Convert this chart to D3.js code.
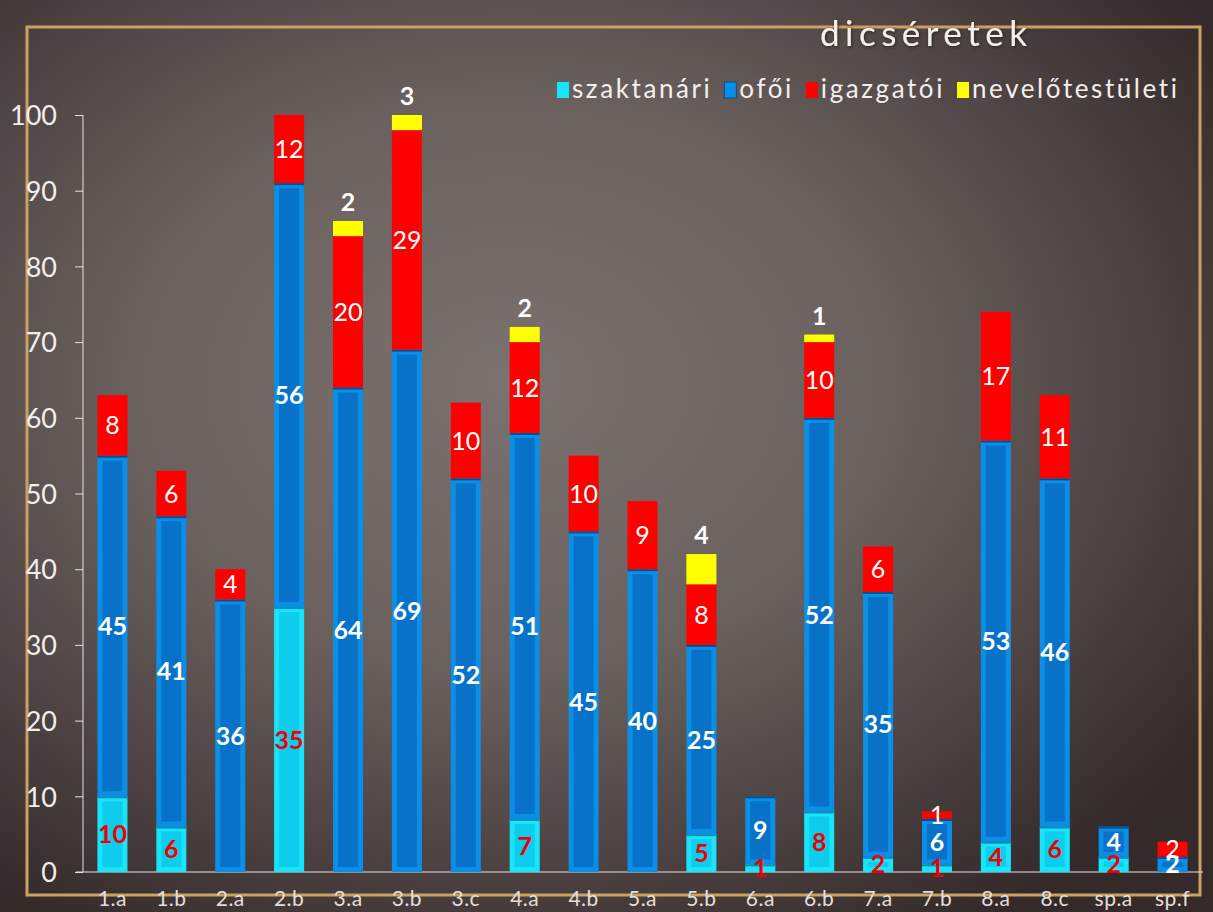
<!DOCTYPE html>
<html lang="hu">
<head>
<meta charset="UTF-8">
<title>dicséretek</title>
<script src="https://d3js.org/d3.v7.min.js"></script>
<style>
  html, body { margin: 0; padding: 0; background: #3b3130; }
  svg { display: block; font-family: Lato, "Open Sans", sans-serif; }
</style>
</head>
<body>
<svg id="chart" width="1213" height="912"></svg>
<script>
// data
const categories = ["1.a", "1.b", "2.a", "2.b", "3.a", "3.b", "3.c", "4.a", "4.b", "5.a",
                    "5.b", "6.a", "6.b", "7.a", "7.b", "8.a", "8.c", "sp.a", "sp.f"];
const szaktanari = [10, 6, 0, 35, 0, 0, 0, 7, 0, 0, 5, 1, 8, 2, 1, 4, 6, 2, 0];
const ofoi       = [45, 41, 36, 56, 64, 69, 52, 51, 45, 40, 25, 9, 52, 35, 6, 53, 46, 4, 2];
const igazgatoi  = [8, 6, 4, 12, 20, 29, 10, 12, 10, 9, 8, 0, 10, 6, 1, 17, 11, 0, 2];
const nevelo     = [0, 0, 0, 0, 2, 3, 0, 2, 0, 0, 4, 0, 1, 0, 0, 0, 0, 0, 0];
const seriesNames = ["szaktanári", "ofői", "igazgatói", "nevelőtestületi"];
const yTicks = [0, 10, 20, 30, 40, 50, 60, 70, 80, 90, 100];

const W = 1213, H = 912;
const FONT = "Lato, 'Open Sans', sans-serif";
const svg = d3.select("#chart");
const defs = svg.append("defs");

// background
const bg = defs.append("radialGradient").attr("id", "bg")
    .attr("cx", "42%").attr("cy", "42%").attr("r", "70%");
bg.append("stop").attr("offset", "0%").attr("stop-color", "#7b7270");
bg.append("stop").attr("offset", "45%").attr("stop-color", "#6a605e");
bg.append("stop").attr("offset", "100%").attr("stop-color", "#352a2a");
svg.append("rect").attr("width", W).attr("height", H).attr("fill", "url(#bg)");

const shadow = defs.append("filter").attr("id", "shadow")
    .attr("x", "-10%").attr("y", "-20%").attr("width", "120%").attr("height", "140%");
shadow.append("feDropShadow").attr("dx", 1).attr("dy", 1).attr("stdDeviation", 1.5)
    .attr("flood-color", "#2a1a18").attr("flood-opacity", 0.9);

// gold frame
svg.append("rect").attr("x", 27).attr("y", 27).attr("width", 1173).attr("height", 868)
    .attr("fill", "none").attr("stroke", "#c8a263").attr("stroke-width", 3);

// scales
const x = d3.scaleBand().domain(categories).range([83, 1202])
    .paddingInner(0.49).paddingOuter(0.245);
const y = d3.scaleLinear().domain([0, 100]).range([872, 115]).clamp(true);

const rows = categories.map((c, i) => ({
  cat: c, szaktanari: szaktanari[i], ofoi: ofoi[i], igazgatoi: igazgatoi[i], nevelo: nevelo[i]
}));
const keys = ["szaktanari", "ofoi", "igazgatoi", "nevelo"];
const stacked = d3.stack().keys(keys)(rows);

const fills = {
  szaktanari: { outer: "#18e4fb", inner: "#0ecdec", edge: "#0a8fb8" },
  ofoi:       { outer: "#0b8fe6", inner: "#0872c8", edge: "#06508e" },
  igazgatoi:  { outer: "#ff0000" },
  nevelo:     { outer: "#ffff00" }
};

// axes
const yAxis = svg.append("g").attr("transform", "translate(83,0)")
    .call(d3.axisLeft(y).tickValues(yTicks).tickSize(8).tickPadding(18))
    .attr("font-family", FONT);
yAxis.select(".domain").attr("stroke", "#e6e2e0").attr("d", "M0,872V115");
yAxis.selectAll(".tick line").attr("stroke", "#e6e2e0");
yAxis.selectAll(".tick text").attr("fill", "#f2eeec").style("font-size", "27px")
    .attr("dy", "0.36em");

const xAxis = svg.append("g").attr("transform", "translate(0,872)")
    .call(d3.axisBottom(x).tickSize(0).tickPadding(19))
    .attr("font-family", FONT);
xAxis.select(".domain").attr("stroke", "#e6e2e0").attr("d", "M76,0H1203");
xAxis.selectAll(".tick text").attr("fill", "#e4dedb").style("font-size", "21px")
    .style("letter-spacing", "0.5px");

// bars
const bars = svg.append("g");
stacked.forEach(layer => {
  const f = fills[layer.key];
  layer.forEach(d => {
    const v = d[1] - d[0];
    if (v <= 0) return;
    const bx = x(d.data.cat), bw = x.bandwidth();
    const y0 = y(d[0]), y1 = y(d[1]);
    const h = y0 - y1;
    if (h <= 0) return;
    bars.append("rect").attr("x", bx).attr("y", y1).attr("width", bw).attr("height", h)
        .attr("fill", f.outer);
    if (f.inner) {
      const ins = 5;
      if (h > ins * 2 + 2) {
        bars.append("rect").attr("x", bx + ins).attr("y", y1 + ins)
            .attr("width", bw - ins * 2).attr("height", h - ins * 2).attr("fill", f.inner);
      }
      bars.append("line").attr("x1", bx).attr("x2", bx + bw).attr("y1", y1 + 1).attr("y2", y1 + 1)
          .attr("stroke", f.edge).attr("stroke-width", 2);
    }
  });
});

// data labels
const labels = svg.append("g").attr("text-anchor", "middle").style("font-size", "25px");
stacked.forEach(layer => {
  layer.forEach(d => {
    const v = d[1] - d[0];
    if (v <= 0) return;
    const cx = x(d.data.cat) + x.bandwidth() / 2;
    const mid = (y(d[0]) + y(d[1])) / 2;
    const t = labels.append("text").attr("x", cx).text(v);
    if (layer.key === "szaktanari") {
      t.attr("y", mid).attr("dy", "0.36em").attr("fill", "#f00000").attr("font-weight", "bold");
    } else if (layer.key === "ofoi") {
      t.attr("y", mid).attr("dy", "0.36em").attr("fill", "#ffffff").attr("font-weight", "bold");
    } else if (layer.key === "igazgatoi") {
      t.attr("y", mid).attr("dy", "0.36em").attr("fill", "#ffffff").attr("font-weight", "normal");
    } else {
      t.attr("y", y(d[1]) - 10).attr("fill", "#ffffff").attr("font-weight", "bold");
    }
  });
});

// title
svg.append("text").attr("x", 820).attr("y", 46)
    .attr("fill", "#f4efec").style("font-size", "35px").style("letter-spacing", "5.5px")
    .attr("filter", "url(#shadow)").text("dicséretek");

// legend: laid out left to right from 557, letter spacing chosen so it ends at 1180
const legend = svg.append("g");
const legStart = 557, legEnd = 1180, sq = 12, sqGap = 3, itemGap = 12;
const texts = seriesNames.map(n => legend.append("text").attr("y", 98).attr("fill", "#f4efec")
    .style("font-size", "26px").text(n));
const widths = texts.map(t => t.node().getComputedTextLength());
const nChars = d3.sum(seriesNames, n => n.length);
const spacing = (legEnd - legStart - keys.length * (sq + sqGap) - (keys.length - 1) * itemGap
                 - d3.sum(widths)) / nChars;
let lx = legStart;
keys.forEach((k, i) => {
  legend.append("rect").attr("x", lx).attr("y", 82).attr("width", sq).attr("height", 16)
      .attr("fill", k === "ofoi" ? "#0b8fe6" : fills[k].outer)
      .attr("stroke", k === "ofoi" ? "#06508e" : "none");
  texts[i].attr("x", lx + sq + sqGap).style("letter-spacing", spacing + "px");
  lx += sq + sqGap + widths[i] + spacing * seriesNames[i].length + itemGap;
});
</script>
</body>
</html>
